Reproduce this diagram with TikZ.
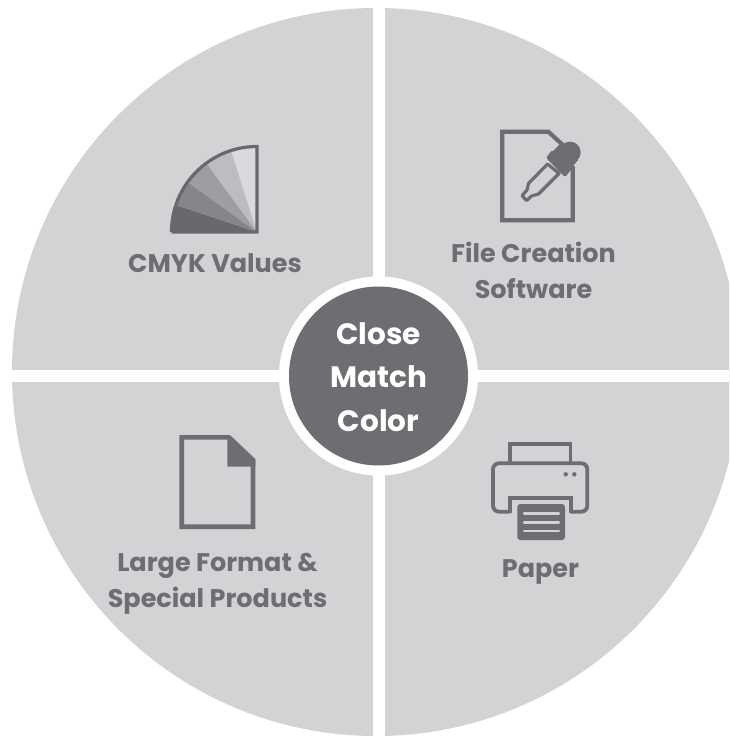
\documentclass[tikz,border=0pt]{standalone}
\usepackage{fontspec}
\setmainfont{Poppins}
\definecolor{pie}{HTML}{D1D3D4}
\definecolor{ink}{HTML}{6D6E71}
\definecolor{wa}{HTML}{68696C}
\definecolor{wb}{HTML}{858689}
\definecolor{wc}{HTML}{9C9EA0}
\definecolor{wd}{HTML}{BCBDC0}
\definecolor{we}{HTML}{D9DADC}
\tikzset{
 lbl/.style={text=ink,font=\fontsize{25.5}{36}\selectfont\bfseries,align=center,inner sep=0pt},
 hub/.style={text=white,font=\fontsize{29.5}{43.5}\selectfont\bfseries,align=center,inner sep=0pt},
 icon/.style={draw=ink,line width=4.2pt,line join=miter,fill=none}
}
\begin{document}
\begin{tikzpicture}[x=1pt,y=-1pt]
\useasboundingbox (0,0) rectangle (729,736);
\fill[white] (0,0) rectangle (729,736);
\begin{scope}
\clip (0,0) rectangle (729,736);
\fill[pie] (376,372) circle[radius=364];
\fill[white] (372.7,0) rectangle (384.5,736);
\fill[white] (0,370) rectangle (729,382.2);
\fill[white] (378.5,376) circle[radius=99.5];
\fill[ink] (378.5,376) circle[radius=89.5];
\end{scope}
\node[hub] (hubtext) at (378.5,377) {Close\\Match\\Color};
% CMYK
\coordinate (c) at (257,232);
\fill[wa] (c) -- (171.5,232) arc[start angle=180,end angle=198.4,radius=85.5] -- cycle;
\fill[wb] (c) -- ++(198.4:85.5) arc[start angle=198.4,end angle=215.8,radius=85.5] -- cycle;
\fill[wc] (c) -- ++(215.8:85.5) arc[start angle=215.8,end angle=233.7,radius=85.5] -- cycle;
\fill[wd] (c) -- ++(233.7:85.5) arc[start angle=233.7,end angle=252.4,radius=85.5] -- cycle;
\fill[we] (c) -- ++(252.4:85.5) arc[start angle=252.4,end angle=270,radius=85.5] -- cycle;
\draw[wa,line width=3.2pt,line join=miter] (171.5,232) -- (257,232) -- (257,146.5) arc[start angle=270,end angle=180,radius=85.5];
\node[lbl] (cmyk) at (215,263) {CMYK Values};
% File
\draw[icon] (572.8,166) -- (572.8,220.3) -- (502.2,220.3) -- (502.2,131.7) -- (548.3,131.7) -- (565,147);
\draw[ink,line width=3.2pt,line join=round,fill=pie] (547.5,164) -- (528.5,183.5) -- (527,190) -- (522,195.7) -- (526.7,200.5) -- (531.5,196) -- (538.5,194) -- (559,173.5) -- cycle;
\fill[ink] (570,152.3) circle[radius=10.7];
\fill[ink,rounded corners=1.5pt] (552.3,150) -- (546,157.7) -- (565,177.3) -- (572.2,168.3) -- cycle;
\fill[ink] (560,144) -- (578,160) -- (568,172) -- (550,154) -- cycle;
\node[lbl] (file) at (533.5,270) {File Creation\\Software};
% Doc
\draw[icon,line width=4.6pt] (253,460) -- (253,526.7) -- (181.7,526.7) -- (181.7,437.3) -- (229,437.3) -- cycle;
\fill[ink] (227.3,435) -- (229,435) -- (255.3,460) -- (255.3,466.7) -- (227.3,466.7) -- cycle;
\node[lbl] (large) at (217.5,584) {Large Format \&\\Special Products};
% Printer
\draw[icon,line width=3.8pt] (510,463) -- (510,444) -- (570.5,444) -- (570.5,463);
\draw[icon,line width=3.8pt,rounded corners=6pt] (510,511.7) -- (493,511.7) -- (493,463.3) -- (587.3,463.3) -- (587.3,511.7) -- (570.7,511.7);
\draw[icon,line width=3.8pt] (510,513) -- (510,498) -- (570.7,498) -- (570.7,513);
\fill[ink,rounded corners=3pt] (517.3,504) rectangle (565,540);
\foreach \yy in {513.3,522.3,531}{\draw[pie,line width=2.4pt,line cap=round] (524,\yy) -- (559,\yy);}
\fill[ink] (565.7,474.3) circle[radius=2.2];
\fill[ink] (574.3,474.3) circle[radius=2.2];
\node[lbl] (paper) at (540.5,572) {Paper};
\end{tikzpicture}
\end{document}
